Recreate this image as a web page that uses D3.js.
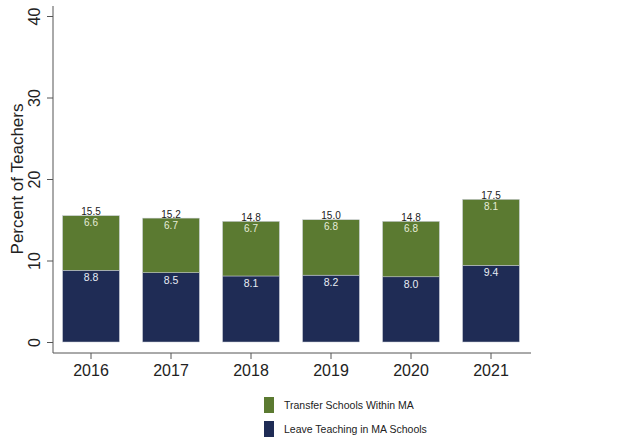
<!DOCTYPE html>
<html><head><meta charset="utf-8">
<script src="https://cdn.jsdelivr.net/npm/d3@7"></script>
<style>body{margin:0;background:#fff}svg{display:block;font-family:"Liberation Sans",Arial,sans-serif}</style>
</head><body><svg id="c" width="636" height="444"></svg>
<script>
const years = ["2016","2017","2018","2019","2020","2021"];
const leave = [8.8, 8.5, 8.1, 8.2, 8.0, 9.4];
const transfer = [6.6, 6.7, 6.7, 6.8, 6.8, 8.1];
const total = [15.5, 15.2, 14.8, 15.0, 14.8, 17.5];
const yTicks = [0, 10, 20, 30, 40];
const seriesNames = ["Transfer Schools Within MA", "Leave Teaching in MA Schools"];
const colors = {leave: "#1f2c55", transfer: "#5b7a31"};

const svg = d3.select("#c");
const x = d3.scaleBand().domain(years).range([51, 531]).paddingInner(0.29).paddingOuter(0.145);
const y = d3.scaleLinear().domain([0, 40]).range([342, 16]);

// axes
const yAxis = svg.append("g").attr("transform", "translate(53,0)")
  .call(d3.axisLeft(y).tickValues(yTicks).tickSize(6).tickSizeOuter(0));
yAxis.select(".domain").attr("d", "M0,6V353").attr("stroke", "#555");
yAxis.selectAll(".tick line").attr("stroke", "#555");
yAxis.selectAll(".tick text").attr("font-size", 16).attr("fill", "#222")
  .attr("text-anchor", "middle").attr("x", 0).attr("y", 0).attr("dy", "0.1em")
  .attr("transform", "translate(-15,0) rotate(-90)");

const xAxis = svg.append("g").attr("transform", "translate(0,353)")
  .call(d3.axisBottom(x).tickSize(6).tickSizeOuter(0));
xAxis.select(".domain").attr("d", "M53,0H531").attr("stroke", "#555");
xAxis.selectAll(".tick line").attr("stroke", "#555");
xAxis.selectAll(".tick text").attr("font-size", 16).attr("fill", "#222").attr("y", 10).attr("dy", "0.8em");

svg.append("text").attr("transform", "translate(17,179) rotate(-90)")
  .attr("text-anchor", "middle").attr("font-size", 17).attr("fill", "#222").attr("dy", "0.35em")
  .text("Percent of Teachers");

// bars
const g = svg.append("g");
years.forEach((yr, i) => {
  const x0 = x(yr), w = x.bandwidth(), cx = x0 + w / 2;
  g.append("rect").attr("x", x0).attr("width", w)
    .attr("y", y(leave[i])).attr("height", y(0) - y(leave[i]))
    .attr("fill", colors.leave).attr("stroke", "#c8ccd6").attr("stroke-width", 0.5);
  g.append("rect").attr("x", x0).attr("width", w)
    .attr("y", y(total[i])).attr("height", y(leave[i]) - y(total[i]))
    .attr("fill", colors.transfer).attr("stroke", "#c8ccd6").attr("stroke-width", 0.5);
  g.append("text").attr("x", cx).attr("y", y(total[i]) - 0.5).attr("text-anchor", "middle")
    .attr("font-size", 10).attr("fill", "#222").text(total[i].toFixed(1));
  g.append("text").attr("x", cx).attr("y", y(total[i]) + 10.5).attr("text-anchor", "middle")
    .attr("font-size", 10).attr("fill", "#e6ecd8").text(transfer[i].toFixed(1));
  g.append("text").attr("x", cx).attr("y", y(leave[i]) + 11).attr("text-anchor", "middle")
    .attr("font-size", 10.5).attr("fill", "#e8ecf4").text(leave[i].toFixed(1));
});

// legend
const leg = svg.append("g");
[[seriesNames[0], colors.transfer, 397], [seriesNames[1], colors.leave, 421]].forEach(([t, c, yy]) => {
  leg.append("rect").attr("x", 264).attr("y", yy).attr("width", 10).attr("height", 16).attr("fill", c);
  leg.append("text").attr("x", 284).attr("y", yy + 8).attr("dy", "0.35em")
    .attr("font-size", 10.5).attr("fill", "#222").text(t);
});
</script></body></html>
